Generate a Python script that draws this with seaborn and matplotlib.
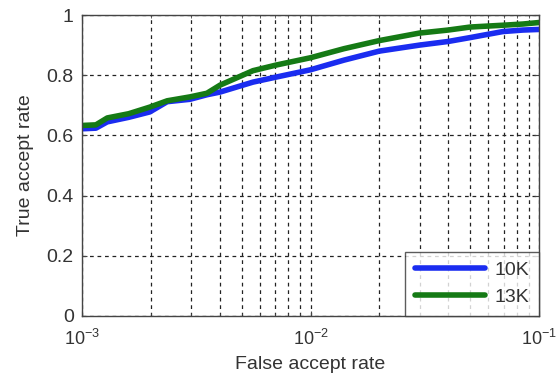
import numpy as np
import pandas as pd
import matplotlib
matplotlib.use("Agg")
import matplotlib.pyplot as plt
import seaborn as sns
from matplotlib.ticker import LogLocator, FixedLocator, NullFormatter

far = [1.0e-3, 1.15e-3, 1.29e-3, 1.6e-3, 1.98e-3, 2.36e-3, 2.97e-3, 3.52e-3, 4.02e-3,
       5.6e-3, 7.1e-3, 1.0e-2, 1.4e-2, 2.0e-2, 3.0e-2, 4.0e-2, 5.0e-2, 6.95e-2, 8.5e-2, 1.0e-1]
tar_10k = [0.622, 0.624, 0.645, 0.660, 0.678, 0.712, 0.720, 0.735, 0.744,
           0.777, 0.794, 0.818, 0.850, 0.880, 0.900, 0.912, 0.925, 0.945, 0.950, 0.952]
tar_13k = [0.633, 0.635, 0.658, 0.672, 0.694, 0.715, 0.728, 0.740, 0.767,
           0.815, 0.834, 0.858, 0.888, 0.915, 0.940, 0.950, 0.960, 0.966, 0.970, 0.975]
series = ["10K", "13K"]
colors = {"10K": "#1a2cf0", "13K": "#157a15"}

df = pd.concat([
    pd.DataFrame({"far": far, "tar": tar_10k, "set": "10K"}),
    pd.DataFrame({"far": far, "tar": tar_13k, "set": "13K"}),
])

sns.set_style("ticks")
plt.rcParams['font.family'] = ['Liberation Sans', 'DejaVu Sans']
plt.rcParams['mathtext.fontset'] = 'custom'
plt.rcParams['mathtext.rm'] = 'Liberation Sans'
plt.rcParams['mathtext.it'] = 'Liberation Sans'

fig = plt.figure(figsize=(5.56, 3.77), dpi=100)
ax = fig.add_axes([82/556, 1-316/377, 457/556, 301/377])

sns.lineplot(data=df, x="far", y="tar", hue="set", palette=colors, hue_order=series,
             linewidth=4, ax=ax)

ax.set_xscale("log")
ax.set_xlim(1e-3, 1e-1)
ax.set_ylim(0, 1)
ax.set_yticks([0, 0.2, 0.4, 0.6, 0.8, 1.0])
ax.set_yticklabels(["0", "0.2", "0.4", "0.6", "0.8", "1"])
ax.xaxis.set_major_locator(FixedLocator([1e-3, 1e-2, 1e-1]))
ax.set_xticklabels([r"$10^{-3}$", r"$10^{-2}$", r"$10^{-1}$"])
ax.xaxis.set_minor_locator(LogLocator(base=10, subs=np.arange(2, 10)))
ax.xaxis.set_minor_formatter(NullFormatter())

ax.grid(True, which="major", axis="both", color="#222222", linestyle=(0, (3, 3)), linewidth=0.9)
ax.grid(True, which="minor", axis="x", color="#222222", linestyle=(0, (3, 3)), linewidth=0.9)

ax.tick_params(axis="both", which="both", direction="in", top=True, right=True,
               labelsize=14, labelcolor="#333333", color="#444444")
ax.tick_params(axis="x", which="major", pad=9, labelsize=13)
ax.tick_params(axis="y", which="major", pad=6)
for s in ax.spines.values():
    s.set_color("#444444")
    s.set_linewidth(1.0)

ax.set_xlabel("False accept rate", fontsize=14, color="#333333")
ax.xaxis.set_label_coords(0.5, (316 - 356) / 301)
ax.set_ylabel("True accept rate", fontsize=14, color="#333333")
ax.yaxis.set_label_coords((34 - 82) / 457, 0.5)

leg = ax.legend(loc="lower right", frameon=True, fancybox=False, fontsize=14,
                handlelength=3.6, handletextpad=0.5, borderaxespad=0, borderpad=0.5,
                labelspacing=0.5)
leg.get_frame().set_edgecolor("#333333")
leg.get_frame().set_linewidth(1.0)
for t in leg.get_texts():
    t.set_color("#333333")
for h in leg.get_lines():
    h.set_linewidth(4)

fig.savefig("out.png", dpi=100)
